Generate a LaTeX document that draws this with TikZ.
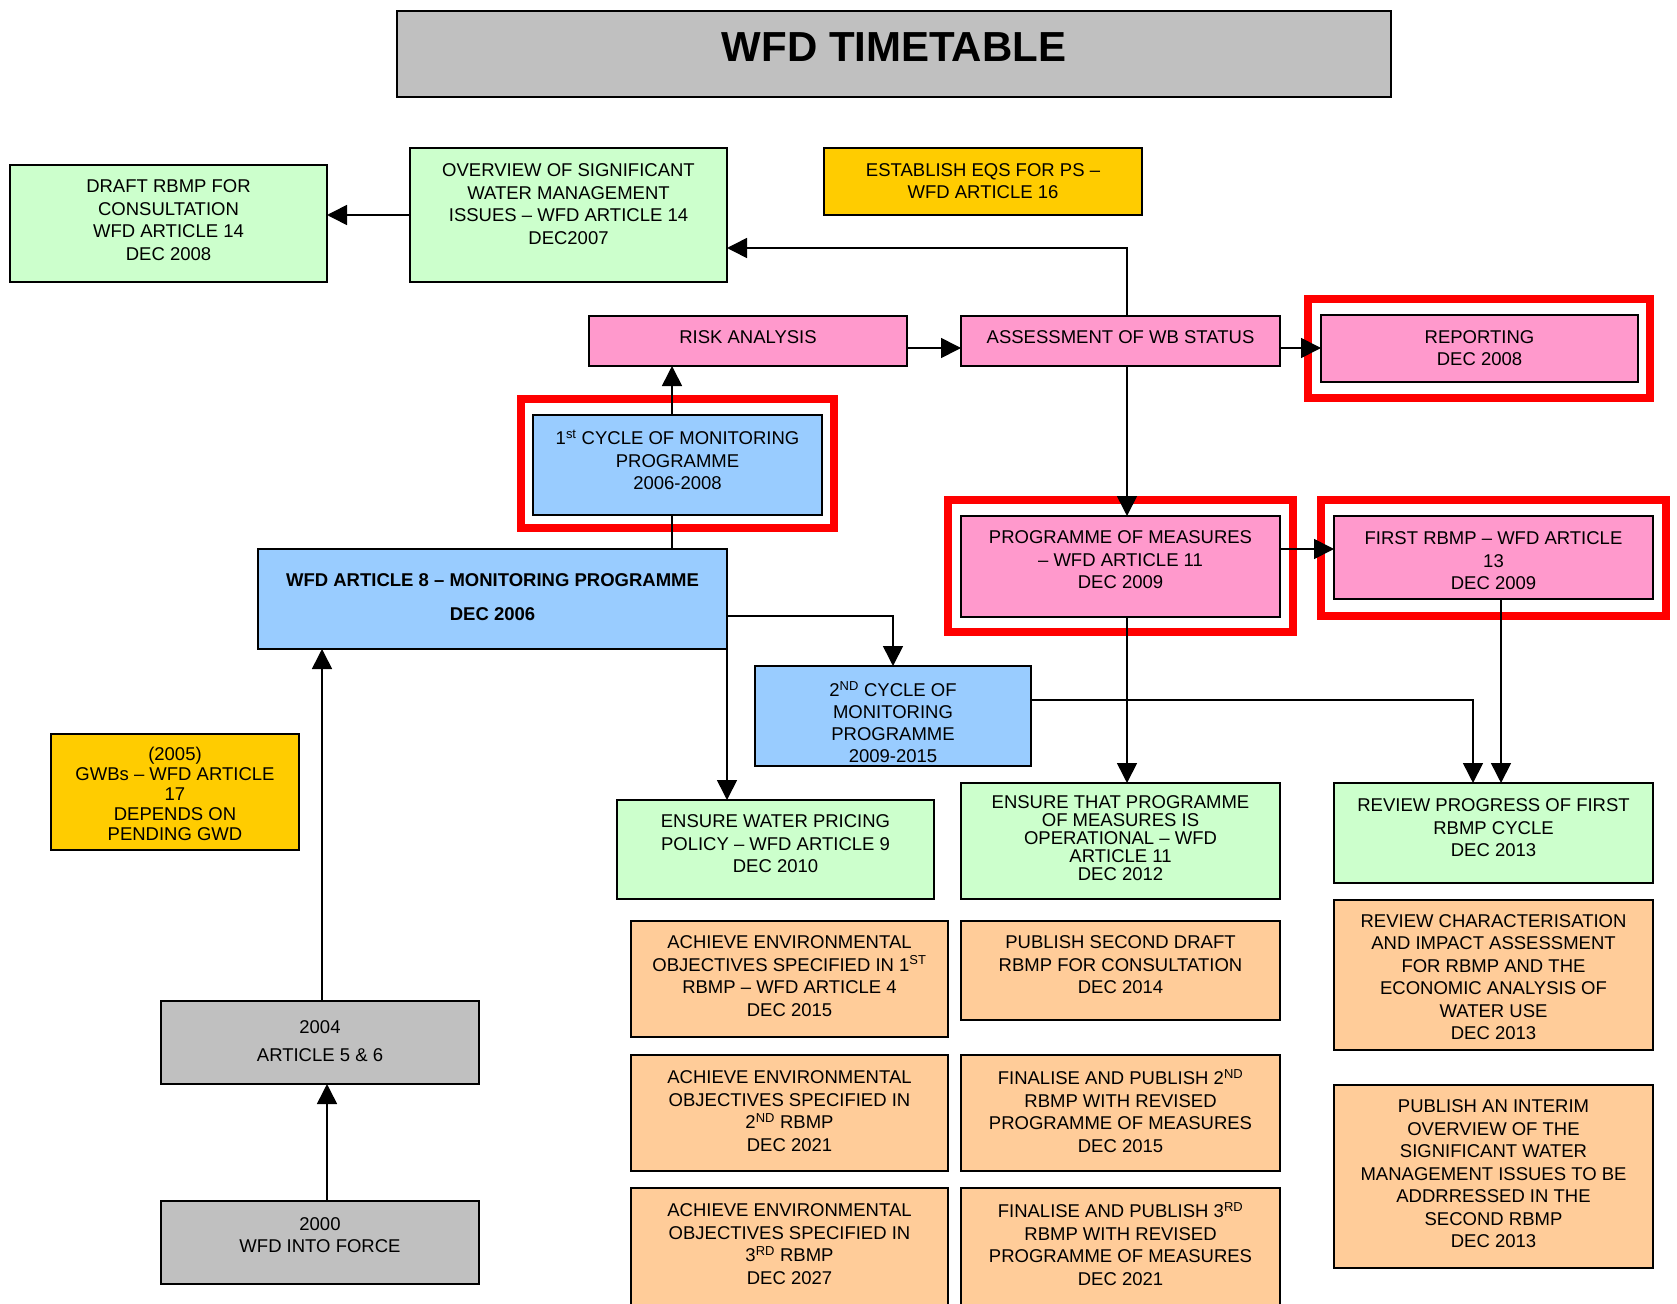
\documentclass[tikz,border=0pt]{standalone}
\usepackage{fontspec}
\setmainfont{Liberation Sans}
\usetikzlibrary{arrows.meta}
\definecolor{wgreen}{HTML}{CCFFCC}
\definecolor{wpink}{HTML}{FF99CC}
\definecolor{wblue}{HTML}{99CCFF}
\definecolor{wpeach}{HTML}{FFCC99}
\definecolor{wgold}{HTML}{FFCC00}
\definecolor{wgray}{HTML}{C0C0C0}
\definecolor{wred}{HTML}{FF0000}
\tikzset{
  boxst/.style={draw=black, line width=1.8pt, inner sep=0pt, outer sep=0pt, rectangle},
  txtst/.style={align=center, inner sep=0pt, font=\fontsize{18.5}{22.5}\selectfont},
  conn/.style={line width=1.6pt, -{Triangle[length=20pt,width=20pt]}},
  lineonly/.style={line width=1.6pt},
  redframe/.style={draw=wred, line width=8pt},
}
% name, fill, x1, y1, x2, y2, text centre y, extra text style, text
\newcommand{\wbox}[9]{%
  \node[boxst, fill=#2, minimum width={#5pt-#3pt}, minimum height={#6pt-#4pt}] (#1) at ({(#3+#5)/2},{(#4+#6)/2}) {};
  \node[txtst, #8] (#1-t) at ({(#3+#5)/2},#7) {#9};}
\begin{document}
\begin{tikzpicture}[x=1pt,y=-1pt]
\useasboundingbox (0,0) rectangle (1677,1303);
\clip (0,0) rectangle (1677,1303);
\fill[white] (0,0) rectangle (1677,1303);

\wbox{title}{wgray}{397}{11}{1391}{97}{47}{font=\fontsize{42}{50}\selectfont\bfseries}{WFD TIMETABLE}

\wbox{draft}{wgreen}{10}{165}{327}{282}{220}{}{DRAFT RBMP FOR\\CONSULTATION\\WFD ARTICLE 14\\DEC 2008}
\wbox{ovw}{wgreen}{410}{148}{727}{282}{204}{}{OVERVIEW OF SIGNIFICANT\\WATER MANAGEMENT\\ISSUES – WFD ARTICLE 14\\DEC2007}
\wbox{eqs}{wgold}{824}{148}{1142}{215}{181}{}{ESTABLISH EQS FOR PS –\\WFD ARTICLE 16}
\wbox{risk}{wpink}{589}{316}{907}{366}{337}{}{RISK ANALYSIS}
\wbox{asm}{wpink}{961}{316}{1280}{366}{337}{}{ASSESSMENT OF WB STATUS}
\wbox{rep}{wpink}{1321}{315}{1638}{382}{348}{}{REPORTING\\DEC 2008}
\wbox{cyc1}{wblue}{533}{415}{822}{515}{460}{}{1\textsuperscript{st} CYCLE OF MONITORING\\PROGRAMME\\2006-2008}
\wbox{art8}{wblue}{258}{549}{727}{649}{597}{font=\fontsize{18.5}{34}\selectfont\bfseries}{WFD ARTICLE 8 – MONITORING PROGRAMME\\DEC 2006}
\wbox{pom}{wpink}{961}{516}{1280}{617}{560}{}{PROGRAMME OF MEASURES\\– WFD ARTICLE 11\\DEC 2009}
\wbox{rbmp1}{wpink}{1334}{516}{1653}{599}{561}{}{FIRST RBMP – WFD ARTICLE\\13\\DEC 2009}
\wbox{cyc2}{wblue}{755}{666}{1031}{766}{722}{font=\fontsize{18.5}{22}\selectfont}{2\textsuperscript{ND} CYCLE OF\\MONITORING\\PROGRAMME\\2009-2015}
\wbox{gwb}{wgold}{51}{734}{299}{850}{794}{font=\fontsize{18.5}{20}\selectfont}{(2005)\\GWBs – WFD ARTICLE\\17\\DEPENDS ON\\PENDING GWD}
\wbox{price}{wgreen}{617}{800}{934}{899}{844}{}{ENSURE WATER PRICING\\POLICY – WFD ARTICLE 9\\DEC 2010}
\wbox{ensure}{wgreen}{961}{783}{1280}{899}{838}{font=\fontsize{18.5}{18}\selectfont}{ENSURE THAT PROGRAMME\\OF MEASURES IS\\OPERATIONAL – WFD\\ARTICLE 11\\DEC 2012}
\wbox{review}{wgreen}{1334}{783}{1653}{883}{828}{}{REVIEW PROGRESS OF FIRST\\RBMP CYCLE\\DEC 2013}
\wbox{ach1}{wpeach}{631}{921}{948}{1037}{976}{}{ACHIEVE ENVIRONMENTAL\\OBJECTIVES SPECIFIED IN 1\textsuperscript{ST}\\RBMP – WFD ARTICLE 4\\DEC 2015}
\wbox{pub2}{wpeach}{961}{921}{1280}{1020}{965}{}{PUBLISH SECOND DRAFT\\RBMP FOR CONSULTATION\\DEC 2014}
\wbox{rchar}{wpeach}{1334}{900}{1653}{1050}{977}{}{REVIEW CHARACTERISATION\\AND IMPACT ASSESSMENT\\FOR RBMP AND THE\\ECONOMIC ANALYSIS OF\\WATER USE\\DEC 2013}
\wbox{y2004}{wgray}{161}{1001}{479}{1084}{1041}{font=\fontsize{18.5}{28}\selectfont}{2004\\ARTICLE 5 \& 6}
\wbox{ach2}{wpeach}{631}{1055}{948}{1171}{1111}{}{ACHIEVE ENVIRONMENTAL\\OBJECTIVES SPECIFIED IN\\2\textsuperscript{ND} RBMP\\DEC 2021}
\wbox{fin2}{wpeach}{961}{1055}{1280}{1171}{1111}{}{FINALISE AND PUBLISH 2\textsuperscript{ND}\\RBMP WITH REVISED\\PROGRAMME OF MEASURES\\DEC 2015}
\wbox{interim}{wpeach}{1334}{1085}{1653}{1268}{1174}{}{PUBLISH AN INTERIM\\OVERVIEW OF THE\\SIGNIFICANT WATER\\MANAGEMENT ISSUES TO BE\\ADDRRESSED IN THE\\SECOND RBMP\\DEC 2013}
\wbox{y2000}{wgray}{161}{1201}{479}{1284}{1235}{}{2000\\WFD INTO FORCE}
\wbox{ach3}{wpeach}{631}{1188}{948}{1320}{1244}{}{ACHIEVE ENVIRONMENTAL\\OBJECTIVES SPECIFIED IN\\3\textsuperscript{RD} RBMP\\DEC 2027}
\wbox{fin3}{wpeach}{961}{1188}{1280}{1320}{1244}{}{FINALISE AND PUBLISH 3\textsuperscript{RD}\\RBMP WITH REVISED\\PROGRAMME OF MEASURES\\DEC 2021}

% red highlight frames
\draw[redframe] (1307.5,298.5) rectangle (1649.5,398);
\draw[redframe] (521,399) rectangle (834,528);
\draw[redframe] (948,500) rectangle (1293,632);
\draw[redframe] (1321,500) rectangle (1666,616);

% connectors
\coordinate (ka) at (1127,248);
\draw[conn] (asm.north -| ka) -- (ka) -- (ka -| ovw.east);
\draw[conn] (ovw.west) -- (ovw.west -| draft.east);
\coordinate (kb) at (0,348);
\draw[conn] (risk.east |- kb) -- (asm.west |- kb);
\draw[conn] (asm.east |- kb) -- (rep.west |- kb);
\coordinate (kc) at (672,0);
\draw[conn] (cyc1.north -| kc) -- (risk.south -| kc);
\draw[lineonly] (art8.north -| kc) -- (cyc1.south -| kc);
\draw[conn] (asm.south -| ka) -- (pom.north -| ka);
\coordinate (kd) at (0,549);
\draw[conn] (pom.east |- kd) -- (rbmp1.west |- kd);
\coordinate (ke) at (0,616);
\draw[conn] (art8.east |- ke) -| (cyc2.north);
\draw[conn] (art8.south east) -- (art8.south east |- price.north);
\draw[conn] (pom.south -| ka) -- (ensure.north -| ka);
\coordinate (kf) at (1473,700);
\draw[conn] (cyc2.east |- kf) -- (kf) -- (kf |- review.north);
\coordinate (kg) at (1501,0);
\draw[conn] (rbmp1.south -| kg) -- (review.north -| kg);
\coordinate (kh) at (322,0);
\draw[conn] (y2004.north -| kh) -- (art8.south -| kh);
\coordinate (ki) at (327,0);
\draw[conn] (y2000.north -| ki) -- (y2004.south -| ki);
\end{tikzpicture}
\end{document}
